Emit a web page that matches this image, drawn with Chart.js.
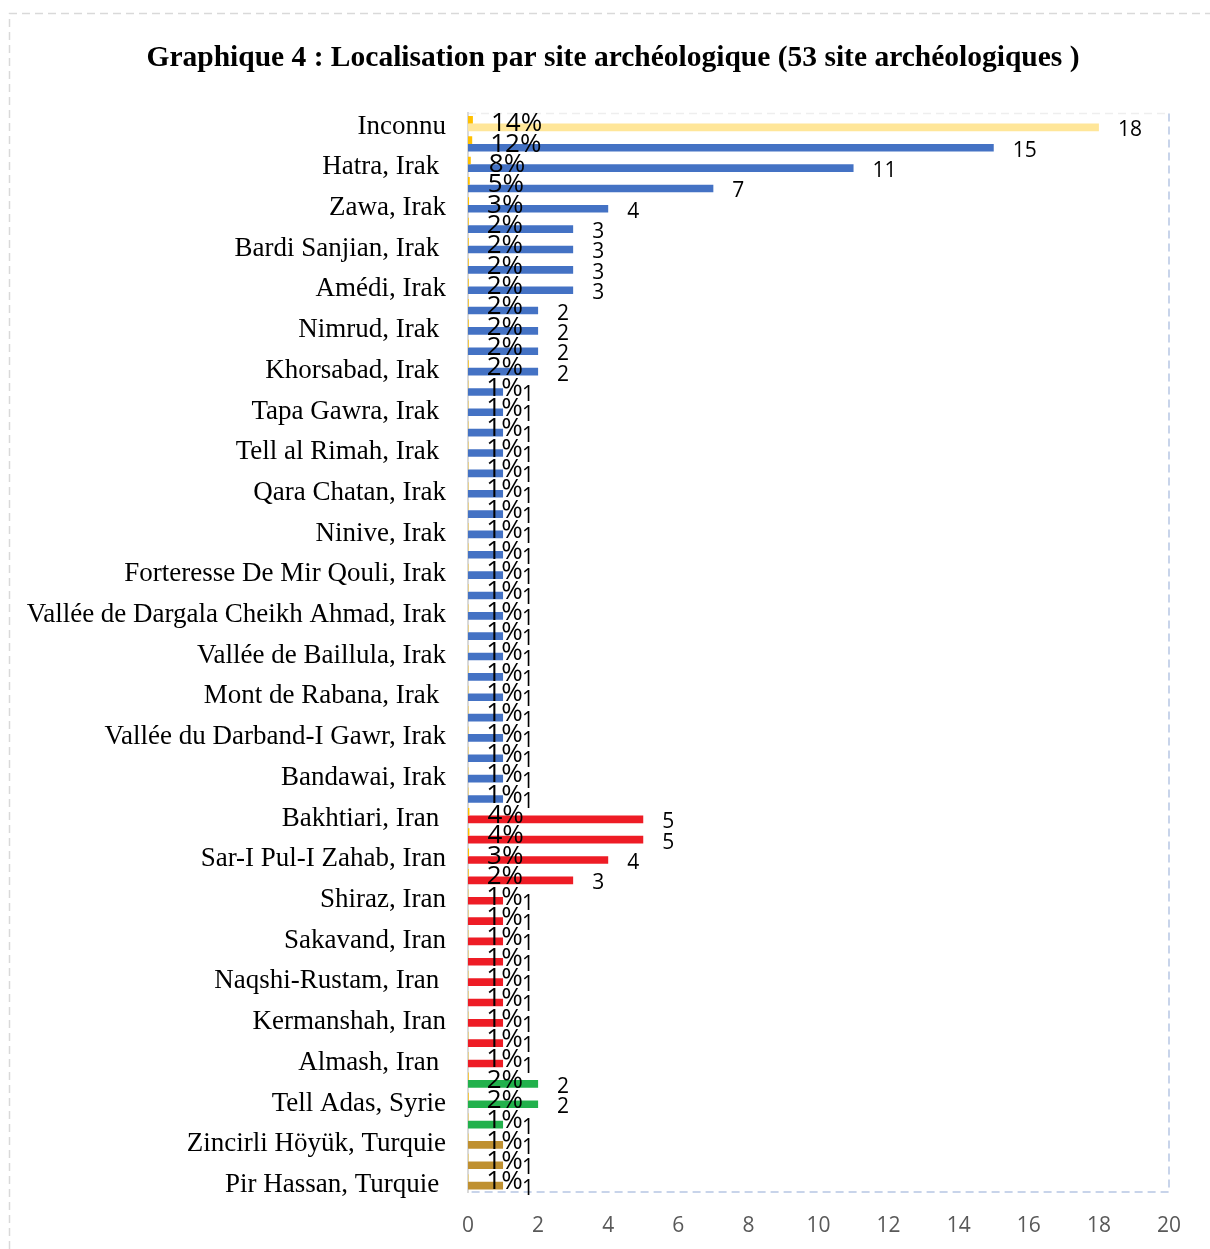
<!DOCTYPE html>
<html><head><meta charset="utf-8">
<script src="https://cdn.jsdelivr.net/npm/chart.js@4"></script>
<style>html,body{margin:0;padding:0;background:#fff;overflow:hidden}#wrap{width:1210px;height:1249px;position:relative}</style>
</head><body><div id="wrap"><canvas id="c" width="1210" height="1249"></canvas></div>
<script>
// ---- DATA ----
const categories = [
  'Inconnu', '', 'Hatra, Irak ', '', 'Zawa, Irak', '', 'Bardi Sanjian, Irak ', '', 'Amédi, Irak', '',
  'Nimrud, Irak ', '', 'Khorsabad, Irak ', '', 'Tapa Gawra, Irak ', '', 'Tell al Rimah, Irak ', '', 'Qara Chatan, Irak', '',
  'Ninive, Irak', '', 'Forteresse De Mir Qouli, Irak', '', 'Vallée de Dargala Cheikh Ahmad, Irak', '', 'Vallée de Baillula, Irak', '', 'Mont de Rabana, Irak ', '',
  'Vallée du Darband-I Gawr, Irak', '', 'Bandawai, Irak', '', 'Bakhtiari, Iran ', '', 'Sar-I Pul-I Zahab, Iran', '', 'Shiraz, Iran', '',
  'Sakavand, Iran', '', 'Naqshi-Rustam, Iran ', '', 'Kermanshah, Iran', '', 'Almash, Iran ', '', 'Tell Adas, Syrie', '',
  'Zincirli Höyük, Turquie', '', 'Pir Hassan, Turquie '
];
const counts = [
  18, 15, 11, 7, 4, 3, 3, 3, 3, 2,
  2, 2, 2, 1, 1, 1, 1, 1, 1, 1,
  1, 1, 1, 1, 1, 1, 1, 1, 1, 1,
  1, 1, 1, 1, 5, 5, 4, 3, 1, 1,
  1, 1, 1, 1, 1, 1, 1, 2, 2, 1,
  1, 1, 1
];
const shares = [
  0.14, 0.12, 0.08, 0.05, 0.03, 0.02, 0.02, 0.02, 0.02, 0.02,
  0.02, 0.02, 0.02, 0.01, 0.01, 0.01, 0.01, 0.01, 0.01, 0.01,
  0.01, 0.01, 0.01, 0.01, 0.01, 0.01, 0.01, 0.01, 0.01, 0.01,
  0.01, 0.01, 0.01, 0.01, 0.04, 0.04, 0.03, 0.02, 0.01, 0.01,
  0.01, 0.01, 0.01, 0.01, 0.01, 0.01, 0.01, 0.02, 0.02, 0.01,
  0.01, 0.01, 0.01
];
const regions = [
  'Inconnu', 'Irak', 'Irak', 'Irak', 'Irak', 'Irak', 'Irak', 'Irak', 'Irak', 'Irak',
  'Irak', 'Irak', 'Irak', 'Irak', 'Irak', 'Irak', 'Irak', 'Irak', 'Irak', 'Irak',
  'Irak', 'Irak', 'Irak', 'Irak', 'Irak', 'Irak', 'Irak', 'Irak', 'Irak', 'Irak',
  'Irak', 'Irak', 'Irak', 'Irak', 'Iran', 'Iran', 'Iran', 'Iran', 'Iran', 'Iran',
  'Iran', 'Iran', 'Iran', 'Iran', 'Iran', 'Iran', 'Iran', 'Syrie', 'Syrie', 'Syrie',
  'Turquie', 'Turquie', 'Turquie'
];
const xTicks = [0, 2, 4, 6, 8, 10, 12, 14, 16, 18, 20];
const titleText = 'Graphique 4 : Localisation par site archéologique (53 site archéologiques )';

// ---- STYLES ----
const regionColors = { 'Inconnu': '#FFE699', 'Irak': '#4472C4', 'Iran': '#EE1C25', 'Syrie': '#22B14C', 'Turquie': '#BF9030' };
const shareColor = '#FFC000';
const sansFont = '"Open Sans", "Liberation Sans", sans-serif';
const serifFont = '"Liberation Serif", "Times New Roman", serif';

const decor = {
  id: 'decor',
  beforeDraw(chart) {
    const ctx = chart.ctx, a = chart.chartArea;
    ctx.save();
    ctx.setLineDash([8, 5]);
    ctx.lineWidth = 1.5;
    ctx.strokeStyle = '#d9d9d9';
    ctx.beginPath(); ctx.moveTo(9.5, 1249); ctx.lineTo(9.5, 13.5); ctx.lineTo(1210, 13.5); ctx.stroke();
    ctx.strokeStyle = '#eeeeee';
    ctx.beginPath(); ctx.moveTo(a.left, a.top); ctx.lineTo(a.right, a.top); ctx.stroke();
    ctx.strokeStyle = '#c8d4ea';
    ctx.lineWidth = 2;
    ctx.beginPath(); ctx.moveTo(a.right, a.top); ctx.lineTo(a.right, a.bottom); ctx.lineTo(a.left, a.bottom); ctx.stroke();
    ctx.restore();
  },
  afterDatasetsDraw(chart) {
    const ctx = chart.ctx;
    ctx.save();
    ctx.fillStyle = '#000';
    ctx.textAlign = 'left';
    ctx.textBaseline = 'middle';
    ctx.font = '26px ' + sansFont;
    chart.getDatasetMeta(0).data.forEach((b, i) => {
      ctx.fillText(Math.round(shares[i] * 100) + '%', b.x + 18, b.y + 4);
    });
    ctx.font = '21px ' + sansFont;
    chart.getDatasetMeta(1).data.forEach((b, i) => {
      ctx.fillText(String(counts[i]), b.x + 19, b.y + 3);
    });
    ctx.restore();
  }
};

new Chart(document.getElementById('c'), {
  type: 'bar',
  data: {
    labels: categories,
    datasets: [
      { label: 'Pourcentage', data: shares, backgroundColor: shareColor, categoryPercentage: 0.75, barPercentage: 1 },
      { label: 'Nombre', data: counts, backgroundColor: regions.map(r => regionColors[r]), categoryPercentage: 0.75, barPercentage: 1 }
    ]
  },
  options: {
    indexAxis: 'y',
    responsive: false,
    animation: false,
    layout: { padding: { left: 16, right: 0, top: 0, bottom: 0 } },
    plugins: {
      legend: { display: false },
      tooltip: { enabled: false },
      title: {
        display: true, text: titleText, color: '#000',
        font: { family: serifFont, size: 29.5, weight: 'bold' },
        padding: { top: 41, bottom: 37 }
      }
    },
    scales: {
      x: {
        type: 'linear', min: xTicks[0], max: xTicks[xTicks.length - 1],
        afterBuildTicks(s) { s.ticks = xTicks.map(v => ({ value: v })); },
        grid: { display: false, drawTicks: false },
        border: { display: false },
        ticks: { color: '#595959', padding: 21, font: { family: sansFont, size: 21 } },
        afterFit(s) { s.height = 57; }
      },
      y: {
        type: 'category',
        grid: { display: false, drawTicks: false },
        border: { display: true, color: '#d9d9d9', width: 2 },
        ticks: { autoSkip: false, color: '#000', padding: 22, labelOffset: 3, font: { family: serifFont, size: 27 } },
        afterFit(s) { s.width = 452; }
      },
      yR: {
        type: 'category', position: 'right', display: true,
        grid: { display: false, drawTicks: false },
        border: { display: false },
        ticks: { display: false },
        afterFit(s) { s.width = 41; }
      }
    }
  },
  plugins: [decor]
});
</script></body></html>
